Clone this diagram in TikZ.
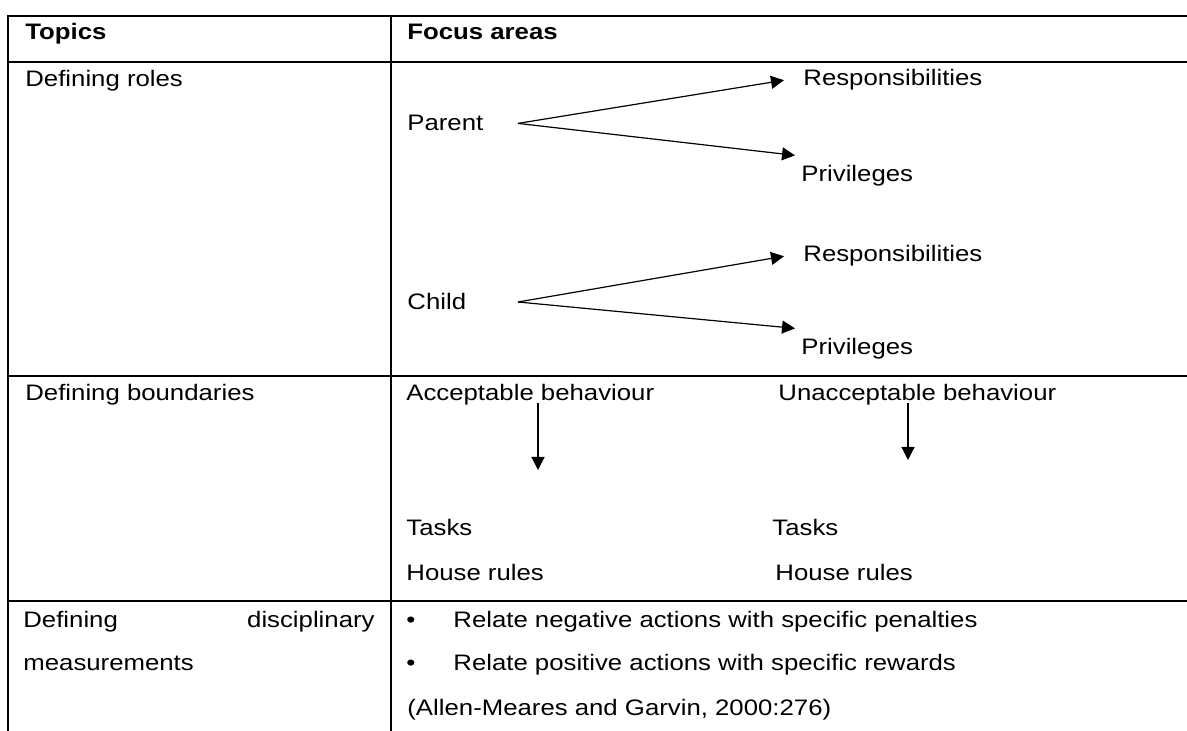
\documentclass[tikz,border=0pt]{standalone}
\usepackage{fontspec}
\setmainfont{Liberation Sans}[FakeStretch=1.15]
\usepackage{tikz}
\usetikzlibrary{positioning,arrows.meta}

\begin{document}
\begin{tikzpicture}[
  x=0.5pt, y=-0.5pt,
  cell/.style={anchor=base west, inner sep=0pt, font=\fontsize{11.2}{13}\selectfont},
  head/.style={cell, font=\fontsize{11.2}{13}\selectfont\bfseries},
  rule/.style={line width=1.1pt},
  arrow/.style={-{Triangle[length=6.5pt,width=6.5pt]}, line width=0.6pt}
]
\useasboundingbox (0,0) rectangle (1187,731);

% Table rules
\draw[rule] (1187,16) -- (8,16) -- (8,731);
\draw[rule] (391,16) -- (391,731);
\draw[rule] (8,62) -- (1187,62);
\draw[rule] (8,376) -- (1187,376);
\draw[rule] (8,601) -- (1187,601);

% Header
\node[head] (topics) at (25,40) {Topics};
\node[head] (focus) at (407,40) {Focus areas};

% Row 1: roles
\node[cell] (roles) at (25,87) {Defining roles};
\node[cell] (parent) at (407,131) {Parent};
\node[cell] (presp) at (803,86) {Responsibilities};
\node[cell] (ppriv) at (801,182) {Privileges};
\node[cell] (child) at (407,310) {Child};
\node[cell] (cresp) at (803,262) {Responsibilities};
\node[cell] (cpriv) at (801,355) {Privileges};

\coordinate (pfork) at (parent.east -| 518,0);
\coordinate (cfork) at (child.east -| 518,0);
\draw[arrow] (pfork) -- ([xshift=-9.5pt]presp.west);
\draw[arrow] (pfork) -- ([shift={(-3pt,5pt)}]ppriv.north west);
\draw[arrow] (cfork) -- ([xshift=-9.5pt]cresp.west);
\draw[arrow] (cfork) -- ([shift={(-3pt,5pt)}]cpriv.north west);

% Row 2: boundaries
\node[cell] (bound) at (25,401) {Defining boundaries};
\node[cell] (accept) at (406,401) {Acceptable behaviour};
\node[cell] (unaccept) at (778,401) {Unacceptable behaviour};
\node[cell] (atasks) at (406,535) {Tasks};
\node[cell] (arules) at (406,580) {House rules};
\node[cell] (utasks) at (772,535) {Tasks};
\node[cell] (urules) at (775,580) {House rules};

\coordinate (adown) at (538,470);
\coordinate (udown) at (908,460);
\draw[arrow] ([yshift=-1pt]adown |- accept.base) -- (adown);
\draw[arrow] ([yshift=-1pt]udown |- unaccept.base) -- (udown);

% Row 3: disciplinary measurements
\node[cell] (discA) at (23,627) {Defining};
\node[cell, anchor=base east] (discB) at (375,627) {disciplinary};
\node[cell] (measure) at (23,670) {measurements};
\node[cell] (bul1) at (406,627) {•};
\node[cell] (neg) at (453,627) {Relate negative actions with specific penalties};
\node[cell] (bul2) at (406,670) {•};
\node[cell] (pos) at (453,670) {Relate positive actions with specific rewards};
\node[cell] (cite) at (407,715) {(Allen-Meares and Garvin, 2000:276)};

\end{tikzpicture}
\end{document}
